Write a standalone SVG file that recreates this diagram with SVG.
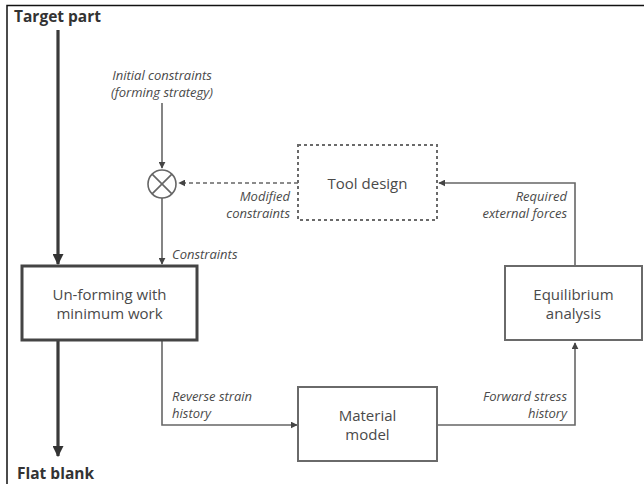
<svg xmlns="http://www.w3.org/2000/svg" width="644" height="484" viewBox="0 0 644 484">
<style>
text{font-family:"Open Sans","Liberation Sans",sans-serif;fill:#4a4a4a}
.node{font-size:15px}
.lab{font-size:13px;font-style:italic}
.title{font-size:15.5px;font-weight:bold;fill:#333}
.box{fill:#fff;stroke:#6a6a6a;stroke-width:2}
.thin{fill:none;stroke:#666;stroke-width:1.6}
.thick{fill:none;stroke:#3a3a3a;stroke-width:3.2}
</style>
<defs>
<marker id="ah" viewBox="0 0 10 10" refX="9" refY="5" markerWidth="7" markerHeight="7" markerUnits="userSpaceOnUse" orient="auto"><path d="M0,0 L10,5 L0,10 z" fill="#444"/></marker>
<marker id="ahb" viewBox="0 0 10 10" refX="9" refY="5" markerWidth="11" markerHeight="11" markerUnits="userSpaceOnUse" orient="auto"><path d="M0,0 L10,5 L0,10 z" fill="#333"/></marker>
</defs>
<rect x="0" y="0" width="644" height="484" fill="#fff"/>
<path d="M7,484 V5.5 H644" fill="none" stroke="#111" stroke-width="1.5"/>

<g id="connectors">
<path class="thick" d="M58,30 V264" marker-end="url(#ahb)"/>
<path class="thick" d="M58,341 V456" marker-end="url(#ahb)"/>
<path class="thin" d="M162,103 V168" marker-end="url(#ah)"/>
<path class="thin" d="M162,198 V264" marker-end="url(#ah)"/>
<path class="thin" d="M298,183 H179" stroke-dasharray="4,3" marker-end="url(#ah)"/>
<path class="thin" d="M575,265 V183 H439" marker-end="url(#ah)"/>
<path class="thin" d="M162,341 V425 H297" marker-end="url(#ah)"/>
<path class="thin" d="M438,425 H575 V343" marker-end="url(#ah)"/>
</g>

<g id="target"><text class="title" x="14" y="22">Target part</text></g>
<g id="flat"><text class="title" x="17" y="479">Flat blank</text></g>

<g id="initial">
<text class="lab" x="162" y="80" text-anchor="middle">Initial constraints</text>
<text class="lab" x="162" y="97" text-anchor="middle">(forming strategy)</text>
</g>

<g id="junction">
<circle cx="162" cy="184" r="14" fill="#fff" stroke="#666" stroke-width="1.6"/>
<path d="M152.1,174.1 L171.9,193.9 M171.9,174.1 L152.1,193.9" stroke="#666" stroke-width="1.6"/>
</g>

<g id="tool">
<rect class="box" x="298" y="145" width="139" height="75" stroke-dasharray="3,3"/>
<text class="node" x="367.5" y="189" text-anchor="middle">Tool design</text>
</g>

<g id="unforming">
<rect x="22" y="266" width="175" height="74" fill="#fff" stroke="#444" stroke-width="3"/>
<text class="node" x="109.5" y="300" text-anchor="middle">Un-forming with</text>
<text class="node" x="109.5" y="319" text-anchor="middle">minimum work</text>
</g>

<g id="material">
<rect class="box" x="298" y="387" width="139" height="74"/>
<text class="node" x="367.5" y="421" text-anchor="middle">Material</text>
<text class="node" x="367.5" y="440" text-anchor="middle">model</text>
</g>

<g id="equilibrium">
<rect class="box" x="505" y="266" width="137" height="74"/>
<text class="node" x="573.5" y="300" text-anchor="middle">Equilibrium</text>
<text class="node" x="573.5" y="319" text-anchor="middle">analysis</text>
</g>

<g id="labels">
<text class="lab" x="290" y="201" text-anchor="end">Modified</text>
<text class="lab" x="290" y="218" text-anchor="end">constraints</text>
<text class="lab" x="567" y="201" text-anchor="end">Required</text>
<text class="lab" x="567" y="218" text-anchor="end">external forces</text>
<text class="lab" x="172" y="259">Constraints</text>
<text class="lab" x="172" y="401">Reverse strain</text>
<text class="lab" x="172" y="418">history</text>
<text class="lab" x="567" y="401" text-anchor="end">Forward stress</text>
<text class="lab" x="567" y="418" text-anchor="end">history</text>
</g>
</svg>
